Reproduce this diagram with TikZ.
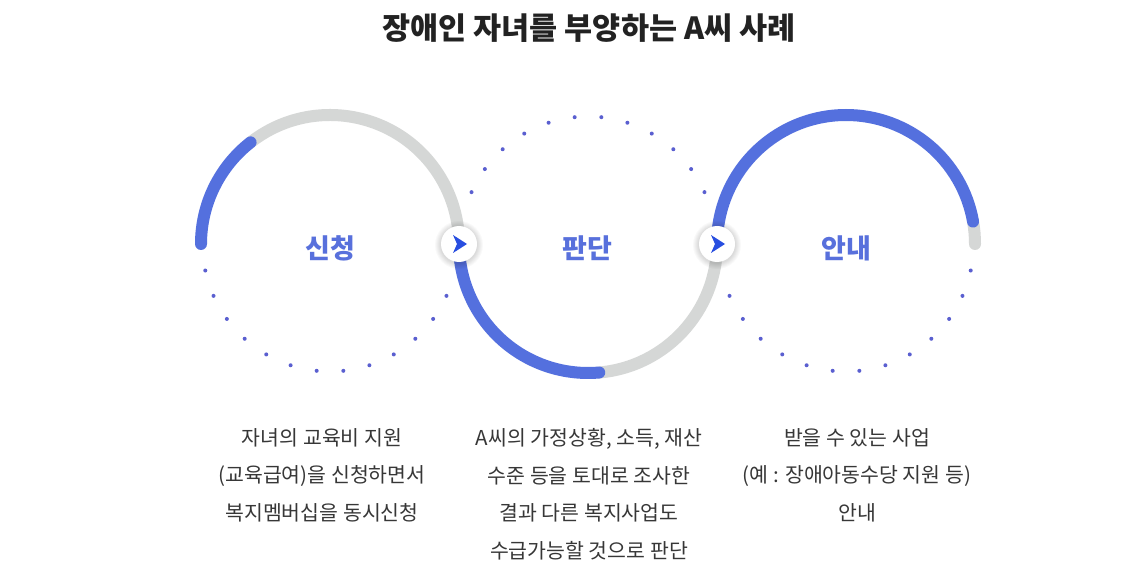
\documentclass[tikz,border=0pt]{standalone}
\usepackage{fontspec}
\setmainfont{Noto Sans CJK KR}
\definecolor{arcBlue}{RGB}{84, 112, 222}
\definecolor{arcGray}{RGB}{213, 215, 214}
\definecolor{dotBlue}{RGB}{90, 95, 208}
\definecolor{arrowBlue}{RGB}{40, 78, 224}
\definecolor{labelBlue}{RGB}{88, 112, 220}
\definecolor{textGray}{RGB}{55, 55, 55}
\definecolor{titleBlack}{RGB}{34, 34, 34}

\begin{document}
\begin{tikzpicture}[x=1pt, y=1pt,
    ring/.style={line width=12pt, line cap=round},
    stage/.style={text=labelBlue, font=\fontsize{27}{32}\selectfont\bfseries},
    note/.style={align=center, anchor=north, inner sep=0pt, text=textGray, font=\fontsize{20.5}{37.7}\selectfont},
    marker/.style={circle, fill=white, minimum size=36pt, inner sep=0pt}]
    \fill[white] (0,0) rectangle (1121,579);
    \useasboundingbox (0,0) rectangle (1121,579);

    \coordinate (cL) at (330,335);
    \coordinate (cM) at (588,335);
    \coordinate (cR) at (846,335);
    \coordinate (j1) at (459,335);
    \coordinate (j2) at (717,335);

    % rings: grey part first, blue progress on top
    \draw[ring, arcGray] (cL) ++(128:129) arc[start angle=128, end angle=0, radius=129];
    \draw[ring, arcBlue] (cL) ++(180:129) arc[start angle=180, end angle=128, radius=129];
    \draw[ring, arcGray] (cM) ++(275:129) arc[start angle=275, end angle=360, radius=129];
    \draw[ring, arcBlue] (cM) ++(180:129) arc[start angle=180, end angle=275, radius=129];
    \draw[ring, arcGray] (cR) ++(10:129) arc[start angle=10, end angle=0, radius=129];
    \draw[ring, arcBlue] (cR) ++(180:129) arc[start angle=180, end angle=10, radius=129];

    % dotted halves
    \foreach \a in {192,204,...,336}
      \fill[dotBlue] ([shift={(\a:127.5)}]cL) circle (2);
    \foreach \a in {24,36,...,156}
      \fill[dotBlue] ([shift={(\a:127.5)}]cM) circle (2);
    \foreach \a in {204,216,...,348}
      \fill[dotBlue] ([shift={(\a:127.5)}]cR) circle (2);

    % soft glow under the markers
    \foreach \r in {19,20,...,24} {
      \fill[black, opacity=0.022] ([yshift=-1]j1) circle (\r);
      \fill[black, opacity=0.022] ([yshift=-1]j2) circle (\r);
    }
    \node[marker] (m1) at (j1) {};
    \node[marker] (m2) at (j2) {};
    \fill[arrowBlue, shift={(m1.center)}] (8,0) -- (-6,9) -- (-2,0) -- (-6,-9) -- cycle;
    \fill[arrowBlue, shift={(m2.center)}] (8,0) -- (-6,9) -- (-2,0) -- (-6,-9) -- cycle;

    \node[stage] (apply) at (330,331) {신청};
    \node[stage] (judge) at (587,331) {판단};
    \node[stage] (guide) at (846,331) {안내};

    \node[text=titleBlack, font=\fontsize{30.5}{36}\selectfont\bfseries] (title) at (589,551) {장애인 자녀를 부양하는 A씨 사례};

    \node[note] (applyText) at (322,151) {자녀의 교육비 지원\\(교육급여)을 신청하면서\\복지멤버십을 동시신청};
    \node[note] (judgeText) at (589,151) {A씨의 가정상황, 소득, 재산\\수준 등을 토대로 조사한\\결과 다른 복지사업도\\수급가능할 것으로 판단};
    \node[note] (guideText) at (857,151) {받을 수 있는 사업\\(예 : 장애아동수당 지원 등)\\안내};
\end{tikzpicture}
\end{document}
